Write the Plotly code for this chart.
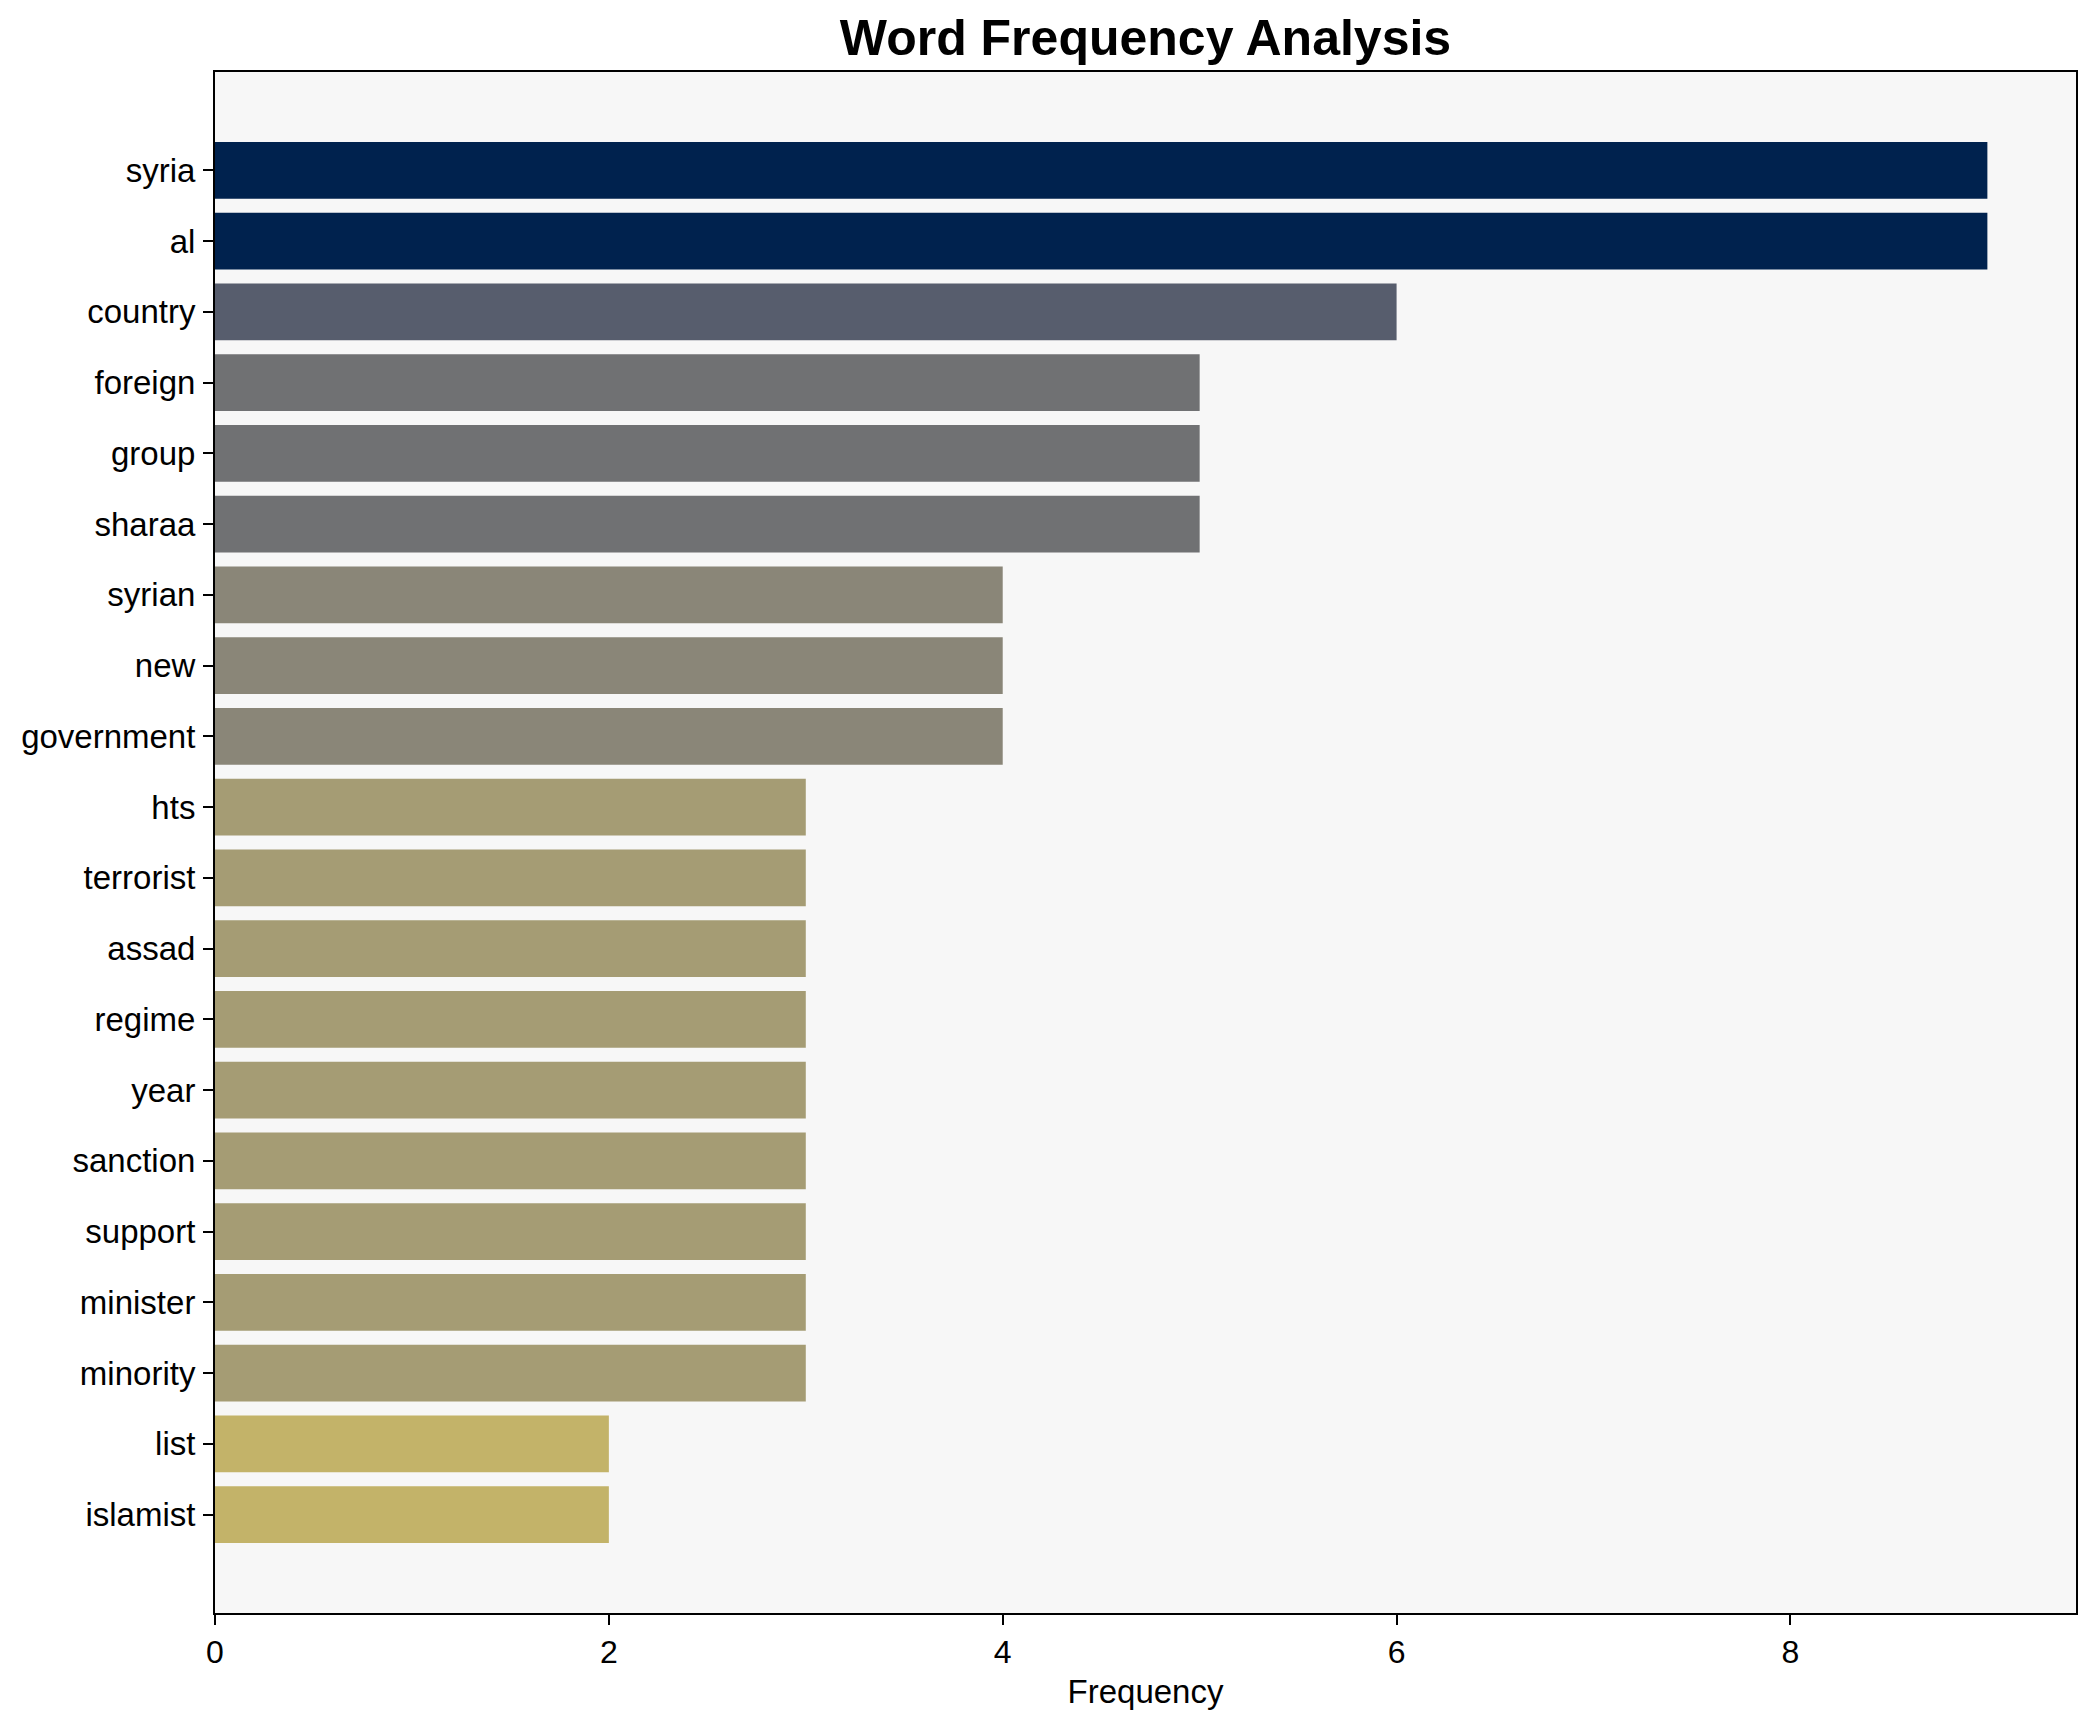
import plotly.graph_objects as go

words = ["syria", "al", "country", "foreign", "group", "sharaa", "syrian", "new",
         "government", "hts", "terrorist", "assad", "regime", "year", "sanction",
         "support", "minister", "minority", "list", "islamist"]
freqs = [9, 9, 6, 5, 5, 5, 4, 4, 4, 3, 3, 3, 3, 3, 3, 3, 3, 3, 2, 2]
color_by_freq = {9: "#00224e", 6: "#575d6d", 5: "#707173", 4: "#8a8678",
                 3: "#a59c74", 2: "#c3b369"}
bar_colors = [color_by_freq[f] for f in freqs]

FONT = "Liberation Sans, Arial, sans-serif"

fig = go.Figure(go.Bar(
    x=freqs, y=words, orientation="h",
    marker=dict(color=bar_colors, line=dict(width=0)),
))

# page body has an 8px default margin; compensate
W, H = 2087, 1714
fig.update_layout(
    width=W, height=H,
    margin=dict(l=207, r=19, t=64, b=109, autoexpand=False),
    paper_bgcolor="white",
    plot_bgcolor="#f7f7f7",
    bargap=0.2,
    showlegend=False,
    font=dict(family=FONT, size=33, color="black"),
    title=dict(text="<b>Word Frequency Analysis</b>", x=0.5,
               xanchor="center", xref="paper", yref="container",
               y=1 - 29 / H, yanchor="middle",
               font=dict(family=FONT, size=50, color="black")),
)
fig.update_xaxes(
    range=[0, 9.45], tickvals=[0, 2, 4, 6, 8],
    showgrid=False, zeroline=False,
    showline=True, linecolor="black", linewidth=2, mirror=True,
    ticks="outside", ticklen=10, tickwidth=2, tickcolor="black",
    tickfont=dict(family=FONT, size=32),
    title=dict(text="Frequency", font=dict(family=FONT, size=33), standoff=10),
    automargin=False,
)
fig.update_yaxes(
    categoryorder="array", categoryarray=words,
    range=[len(words) - 1 + 1.39, -1.39],
    showgrid=False, zeroline=False,
    showline=True, linecolor="black", linewidth=2, mirror=True,
    ticks="outside", ticklen=10, tickwidth=2, tickcolor="black",
    ticklabelstandoff=1,
    tickfont=dict(family=FONT, size=33),
    automargin=False,
)

fig.write_html("out.html")
